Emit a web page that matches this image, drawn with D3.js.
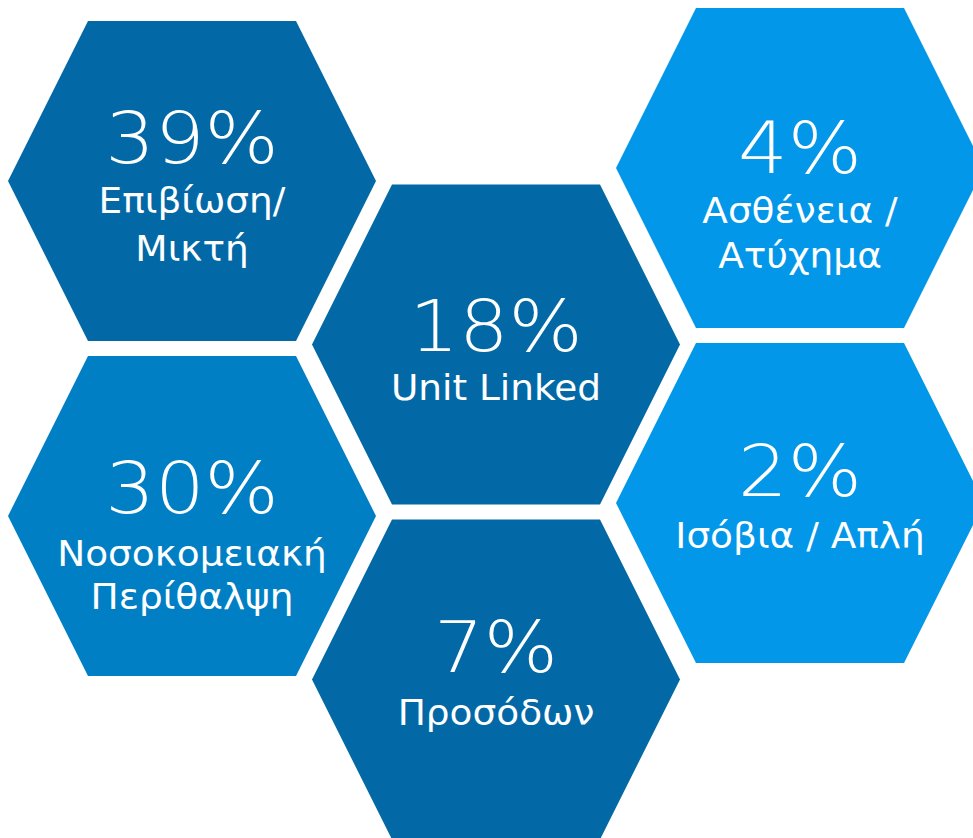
<!DOCTYPE html>
<html>
<head>
<meta charset="utf-8">
<script src="https://cdn.jsdelivr.net/npm/d3@7/dist/d3.min.js"></script>
<style>
  html, body { margin: 0; padding: 0; background: #ffffff; }
  svg { display: block; }
  text { font-family: "DejaVu Sans", Verdana, sans-serif; fill: #ffffff; }
</style>
</head>
<body>
<svg id="chart" width="973" height="838"></svg>
<script>
// ---- data ----
const categories = ["Επιβίωση/|Μικτή", "Νοσοκομειακή|Περίθαλψη", "Unit Linked", "Προσόδων", "Ασθένεια /|Ατύχημα", "Ισόβια / Απλή"];
const shares = [39, 30, 18, 7, 4, 2];
const groups = ["dark", "medium", "dark", "dark", "light", "light"];

// ---- layout (not data) ----
const gridCol = [0, 0, 1, 1, 2, 2];
const gridRow = [0, 1, 0.5, 1.5, 0, 1];
const colShift = [0, -4, -13];
const pctOffset = [-18, -3.5, 6.5, -8, 5, -7.5];
const labelGap = [50, 53, 49, 53, 50, 52];
const lineStep = [48, 43, 48, 48, 45, 48];

const W = 973, H = 838;
const svg = d3.select("#chart");

const x = d3.scaleLinear().domain([0, 2]).range([192, 800]);
const y = d3.scaleLinear().domain([0, 1]).range([181, 516]);
const color = d3.scaleOrdinal().domain(["dark", "medium", "light"]).range(["#0269a6", "#007fc5", "#0397e9"]);

const hw = 184, hh = 160, tw = 104;
function hexPath(cx, cy) {
  const p = d3.path();
  p.moveTo(cx - hw, cy);
  p.lineTo(cx - tw, cy - hh);
  p.lineTo(cx + tw, cy - hh);
  p.lineTo(cx + hw, cy);
  p.lineTo(cx + tw, cy + hh);
  p.lineTo(cx - tw, cy + hh);
  p.closePath();
  return p.toString();
}

const items = shares.map((v, i) => ({
  value: v,
  lines: categories[i].split("|"),
  group: groups[i],
  cx: x(gridCol[i]),
  cy: y(gridRow[i]) + colShift[gridCol[i]],
  i
}));

const g = svg.selectAll("g.hex").data(items).join("g").attr("class", "hex");

g.append("path")
  .attr("d", d => hexPath(d.cx, d.cy))
  .attr("fill", d => color(d.group));

g.append("text")
  .attr("transform", d => `translate(${d.cx},${d.cy + pctOffset[d.i]}) scale(1.1,1)`)
  .attr("text-anchor", "middle")
  .style("font-size", "71px")
  .style("font-weight", 200)
  .text(d => d.value + "%");

g.each(function(d) {
  d3.select(this).selectAll("text.lbl").data(d.lines).join("text")
    .attr("class", "lbl")
    .attr("transform", (t, k) => `translate(${d.cx},${d.cy + pctOffset[d.i] + labelGap[d.i] + k * lineStep[d.i]}) scale(1.04,1)`)
    .attr("text-anchor", "middle")
    .style("font-size", "36px")
    .text(t => t);
});
</script>
</body>
</html>
